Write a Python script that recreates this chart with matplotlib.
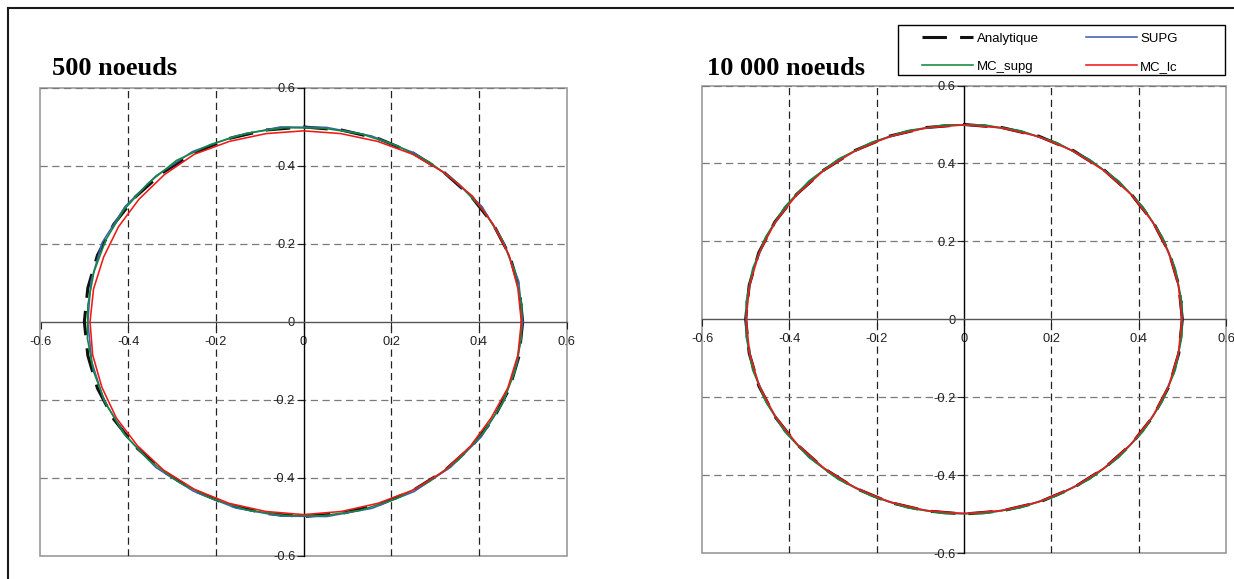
import matplotlib
matplotlib.use('Agg')
import matplotlib.pyplot as plt
from matplotlib.lines import Line2D
from matplotlib.patches import Rectangle

# ---------------- data ----------------
tick_values = [-0.6, -0.4, -0.2, 0.0, 0.2, 0.4, 0.6]
tick_labels = ["-0.6", "-0.4", "-0.2", "0", "0.2", "0.4", "0.6"]
series_names = ["Analytique", "SUPG", "MC_supg", "MC_lc"]
panel_titles = ["500 noeuds", "10 000 noeuds"]

analytic_x = [0.500, 0.492, 0.470, 0.433, 0.383, 0.321, 0.250, 0.171, 0.087, 0.000,
              -0.087, -0.171, -0.250, -0.321, -0.383, -0.433, -0.470, -0.492, -0.500,
              -0.492, -0.470, -0.433, -0.383, -0.321, -0.250, -0.171, -0.087, 0.000,
              0.087, 0.171, 0.250, 0.321, 0.383, 0.433, 0.470, 0.492, 0.500]
analytic_y = [0.000, 0.087, 0.171, 0.250, 0.321, 0.383, 0.433, 0.470, 0.492, 0.500,
              0.492, 0.470, 0.433, 0.383, 0.321, 0.250, 0.171, 0.087, 0.000,
              -0.087, -0.171, -0.250, -0.321, -0.383, -0.433, -0.470, -0.492, -0.500,
              -0.492, -0.470, -0.433, -0.383, -0.321, -0.250, -0.171, -0.087, 0.000]

# 500 noeuds
supg_500_x = [0.500, 0.491, 0.457, 0.407, 0.335, 0.251, 0.155, 0.052, -0.053, -0.155,
              -0.253, -0.337, -0.407, -0.459, -0.485, -0.492, -0.483, -0.455, -0.405,
              -0.337, -0.251, -0.155, -0.052, 0.053, 0.156, 0.252, 0.336, 0.406, 0.457,
              0.488, 0.500]
supg_500_y = [0.000, 0.104, 0.203, 0.296, 0.372, 0.434, 0.477, 0.499, 0.500, 0.477,
              0.437, 0.374, 0.296, 0.204, 0.103, 0.000, -0.103, -0.203, -0.294,
              -0.374, -0.435, -0.478, -0.499, -0.500, -0.479, -0.436, -0.373, -0.295,
              -0.203, -0.104, 0.000]

mcsupg_500_x = [0.498, 0.482, 0.453, 0.410, 0.354, 0.287, 0.211, 0.129, 0.044, -0.044,
                -0.130, -0.212, -0.290, -0.355, -0.410, -0.451, -0.478, -0.492, -0.493,
                -0.479, -0.451, -0.410, -0.354, -0.287, -0.211, -0.129, -0.043, 0.044,
                0.130, 0.212, 0.287, 0.354, 0.409, 0.453, 0.482, 0.497, 0.498]
mcsupg_500_y = [0.044, 0.129, 0.211, 0.287, 0.354, 0.410, 0.453, 0.483, 0.497, 0.498,
                0.484, 0.455, 0.414, 0.355, 0.287, 0.210, 0.128, 0.043, -0.043,
                -0.128, -0.210, -0.287, -0.354, -0.410, -0.453, -0.483, -0.497, -0.498,
                -0.484, -0.454, -0.410, -0.354, -0.286, -0.211, -0.129, -0.043, 0.044]

mclc_500_x = [0.497, 0.489, 0.469, 0.433, 0.385, 0.321, 0.249, 0.169, 0.085, 0.000,
              -0.085, -0.169, -0.249, -0.317, -0.375, -0.422, -0.456, -0.479, -0.487,
              -0.481, -0.460, -0.427, -0.379, -0.319, -0.249, -0.170, -0.086, 0.000,
              0.086, 0.170, 0.250, 0.321, 0.381, 0.428, 0.466, 0.489, 0.497]
mclc_500_y = [0.000, 0.086, 0.171, 0.250, 0.323, 0.383, 0.430, 0.463, 0.483, 0.490,
              0.483, 0.463, 0.430, 0.378, 0.315, 0.244, 0.166, 0.084, 0.000,
              -0.085, -0.168, -0.247, -0.318, -0.381, -0.430, -0.466, -0.487, -0.495,
              -0.487, -0.466, -0.432, -0.383, -0.319, -0.247, -0.170, -0.086, 0.000]

# 10 000 noeuds
supg_10k_x = [0.498, 0.483, 0.453, 0.410, 0.354, 0.287, 0.211, 0.129, 0.044, -0.044,
              -0.129, -0.211, -0.287, -0.354, -0.410, -0.453, -0.483, -0.498, -0.498,
              -0.483, -0.453, -0.410, -0.354, -0.287, -0.211, -0.129, -0.044, 0.044,
              0.129, 0.211, 0.287, 0.354, 0.410, 0.453, 0.483, 0.498, 0.498]
supg_10k_y = [0.044, 0.129, 0.211, 0.287, 0.354, 0.410, 0.453, 0.483, 0.498, 0.498,
              0.483, 0.453, 0.410, 0.354, 0.287, 0.211, 0.129, 0.044, -0.044,
              -0.129, -0.211, -0.287, -0.354, -0.410, -0.453, -0.483, -0.498, -0.498,
              -0.483, -0.453, -0.410, -0.354, -0.287, -0.211, -0.129, -0.044, 0.044]

mcsupg_10k_x = [0.499, 0.484, 0.454, 0.410, 0.354, 0.287, 0.211, 0.129, 0.044, -0.044,
                -0.130, -0.212, -0.288, -0.355, -0.411, -0.454, -0.484, -0.499, -0.499,
                -0.484, -0.454, -0.411, -0.355, -0.288, -0.212, -0.130, -0.044, 0.044,
                0.129, 0.211, 0.287, 0.354, 0.410, 0.454, 0.484, 0.499, 0.499]
mcsupg_10k_y = [0.044, 0.130, 0.212, 0.288, 0.355, 0.410, 0.454, 0.484, 0.499, 0.499,
                0.484, 0.454, 0.411, 0.355, 0.288, 0.212, 0.130, 0.044, -0.044,
                -0.130, -0.212, -0.288, -0.355, -0.411, -0.454, -0.484, -0.499, -0.499,
                -0.484, -0.454, -0.411, -0.355, -0.288, -0.212, -0.130, -0.044, 0.044]

mclc_10k_x = [0.499, 0.491, 0.469, 0.432, 0.382, 0.320, 0.250, 0.171, 0.087, 0.000,
              -0.087, -0.171, -0.250, -0.321, -0.382, -0.432, -0.469, -0.491, -0.499,
              -0.491, -0.469, -0.432, -0.382, -0.321, -0.250, -0.171, -0.087, 0.000,
              0.087, 0.171, 0.250, 0.321, 0.382, 0.432, 0.469, 0.491, 0.499]
mclc_10k_y = [0.000, 0.087, 0.171, 0.250, 0.321, 0.382, 0.432, 0.469, 0.491, 0.499,
              0.491, 0.469, 0.432, 0.382, 0.321, 0.250, 0.171, 0.087, 0.000,
              -0.087, -0.171, -0.250, -0.321, -0.382, -0.432, -0.469, -0.491, -0.499,
              -0.491, -0.469, -0.432, -0.382, -0.321, -0.250, -0.171, -0.087, 0.000]

# ---------------- style ----------------
plt.rcParams['font.family'] = ['Liberation Sans', 'DejaVu Sans']
W, H = 1234, 579
fig = plt.figure(figsize=(W / 100, H / 100), dpi=100)

colors = ['#111111', '#3F5FB0', '#108A3C', '#F01818']
styles = [dict(lw=2.2, dashes=(8, 4.3)), dict(lw=1.15), dict(lw=1.15), dict(lw=1.15)]

def px_axes(x0, x1, ytop, ybot):
    return fig.add_axes([x0 / W, (H - ybot) / H, (x1 - x0) / W, (ybot - ytop) / H])

ax1 = px_axes(40.5, 566.5, 88.0, 555.5)
ax2 = px_axes(702.0, 1226.0, 85.5, 553.0)

panels = [
    (ax1, [(analytic_x, analytic_y), (supg_500_x, supg_500_y),
           (mcsupg_500_x, mcsupg_500_y), (mclc_500_x, mclc_500_y)]),
    (ax2, [(analytic_x, analytic_y), (supg_10k_x, supg_10k_y),
           (mcsupg_10k_x, mcsupg_10k_y), (mclc_10k_x, mclc_10k_y)]),
]

handles = None
for ax, data in panels:
    ax.set_xlim(-0.6, 0.6)
    ax.set_ylim(-0.6, 0.6)
    ax.set_axisbelow(True)
    for side in ['top', 'right']:
        ax.spines[side].set_visible(False)
    ax.spines['left'].set_position(('data', 0))
    ax.spines['bottom'].set_position(('data', 0))
    ax.spines['left'].set_color('#000000')
    ax.spines['bottom'].set_color('#555555')
    ax.spines['left'].set_linewidth(1.0)
    ax.spines['bottom'].set_linewidth(1.0)
    ax.spines['left'].set_zorder(1.5)
    ax.spines['bottom'].set_zorder(1.5)
    ax.add_patch(Rectangle((0, 0), 1, 1, transform=ax.transAxes, fill=False,
                           edgecolor='#9A9A9A', lw=1.2, zorder=0.4, clip_on=False))
    ax.set_xticks(tick_values)
    ax.set_xticklabels(tick_labels)
    ax.set_yticks(tick_values)
    ax.set_yticklabels(tick_labels)
    ax.tick_params(axis='both', labelsize=9.3, colors='#222222', length=5, width=0.8,
                   direction='out')
    ax.tick_params(axis='x', pad=5)
    ax.tick_params(axis='y', pad=1)
    ax.xaxis.grid(True, color='#222222', linestyle=(0, (5.8, 3.6)), lw=0.9)
    ax.yaxis.grid(True, color='#7A7A7A', linestyle=(0, (5.8, 3.6)), lw=0.9)
    for i, t in enumerate(ax.xaxis.get_major_ticks()):
        if i in (0, 3, 6):
            t.gridline.set_visible(False)
    for i, t in enumerate(ax.yaxis.get_major_ticks()):
        if i in (0, 3):
            t.gridline.set_visible(False)
    lines = []
    for (xs, ys), c, st, name in zip(data, colors, styles, series_names):
        ln, = ax.plot(xs, ys, color=c, label=name, zorder=2,
                      solid_joinstyle='miter', **st)
        lines.append(ln)
    if handles is None:
        handles = lines
    ax.set_facecolor('none')

# titles
fig.text(52 / W, (H - 75) / H, panel_titles[0], family='Liberation Serif',
         fontweight='bold', fontsize=19, ha='left', va='baseline')
fig.text(707 / W, (H - 75) / H, panel_titles[1], family='Liberation Serif',
         fontweight='bold', fontsize=19, ha='left', va='baseline')

# legend frame + legend (row-wise order: Analytique, SUPG / MC_supg, MC_lc)
fig.add_artist(Rectangle((898 / W, (H - 75.5) / H), (1225 - 898) / W, 50.5 / H,
                         transform=fig.transFigure, fill=True, facecolor='white',
                         edgecolor='black', lw=1.0, zorder=3))
order = [0, 2, 1, 3]
leg = fig.legend([handles[i] for i in order], [series_names[i] for i in order],
                 ncol=2, loc='upper left',
                 bbox_to_anchor=(922 / W, (H - 32.5) / H), frameon=False,
                 fontsize=9.5, handlelength=3.9, handletextpad=0.25,
                 columnspacing=3.55, borderpad=0, borderaxespad=0,
                 labelspacing=1.2)
leg.set_zorder(4)

# outer figure border (left and top)
fig.add_artist(Line2D([7.5 / W, 7.5 / W], [0, (H - 8) / H], transform=fig.transFigure,
                      color='#1A1A1A', lw=1.5))
fig.add_artist(Line2D([7.5 / W, 1], [(H - 8) / H, (H - 8) / H], transform=fig.transFigure,
                      color='#1A1A1A', lw=1.5))

fig.savefig('out.png', dpi=100, facecolor='white')
